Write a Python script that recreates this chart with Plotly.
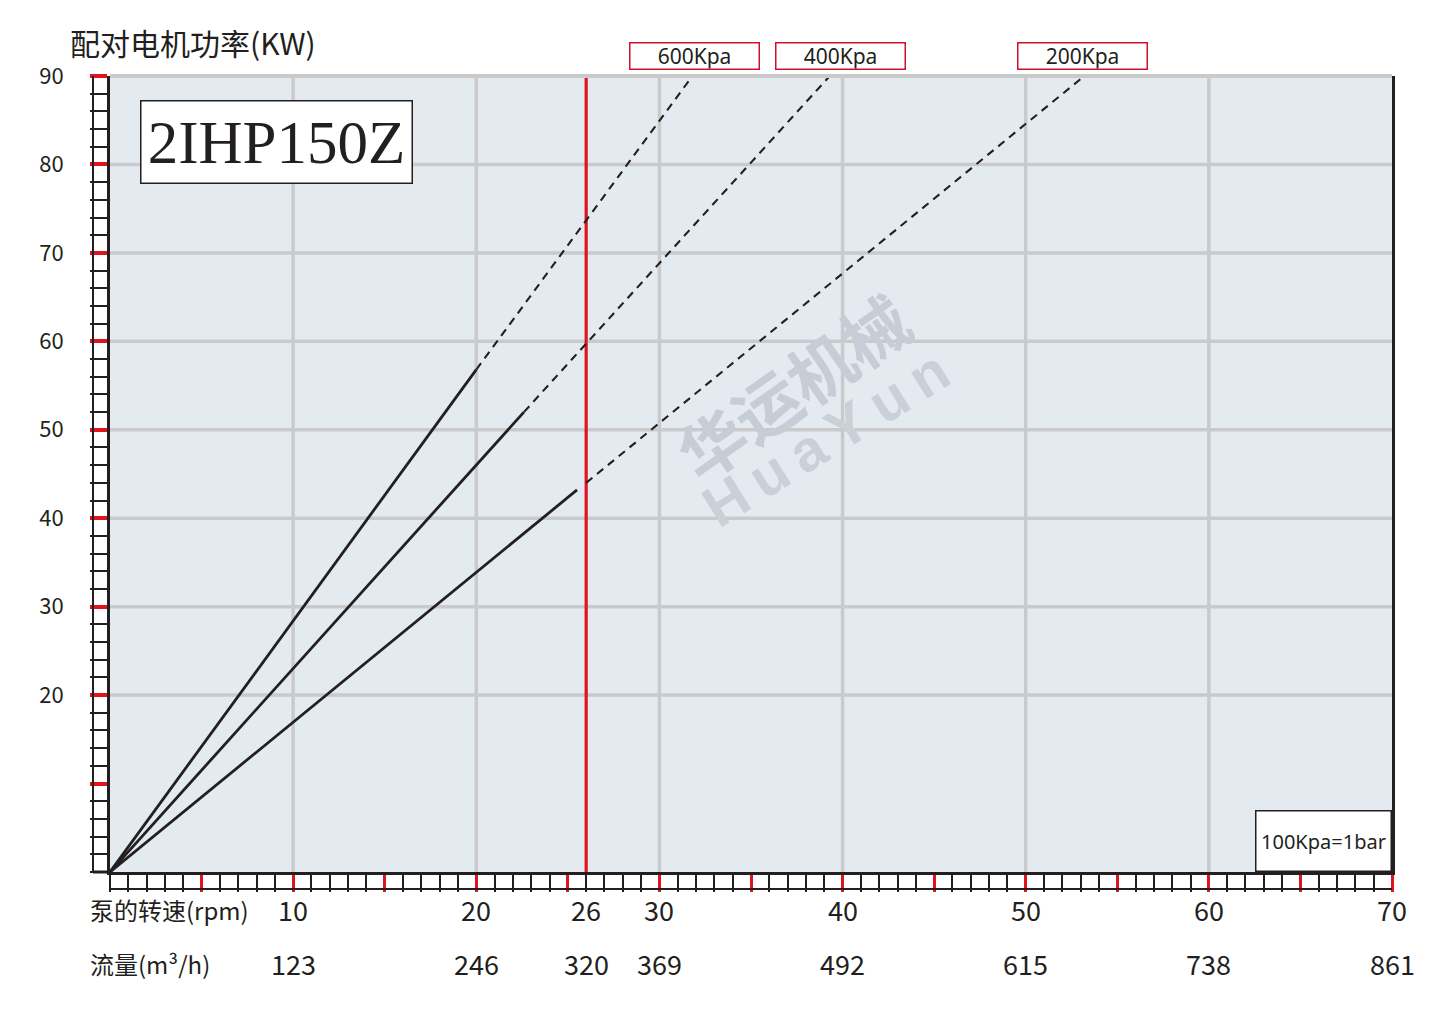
import plotly.graph_objects as go

# ---------------- data ----------------
pressures = ["600Kpa", "400Kpa", "200Kpa"]
# solid segment: from origin to (solid_end_x, solid_end_y)
solid_end_x = [20.0, 22.6, 25.5]
solid_end_y = [56.8, 52.0, 43.2]
# dashed continuation: from (dash_start_x, dash_start_y) to (dash_end_x, 90)
dash_start_x = [20.0, 22.6, 26.0]
dash_start_y = [56.8, 52.0, 44.0]
dash_end_x = [31.8, 39.3, 53.2]
dash_end_y = [90, 90, 90]
label_x = [31.9, 39.9, 53.1]

speed_ticks = [10, 20, 26, 30, 40, 50, 60, 70]
flow_labels = ["123", "246", "320", "369", "492", "615", "738", "861"]
y_ticks = [10, 20, 30, 40, 50, 60, 70, 80, 90]
y_tick_text = ["", "20", "30", "40", "50", "60", "70", "80", "90"]
x_grid = [10, 20, 30, 40, 50, 60]
y_grid = [20, 30, 40, 50, 60, 70, 80]
x_major = [5, 10, 15, 20, 25, 30, 35, 40, 45, 50, 55, 60, 65, 70]
rated_speed = 26

model = "2IHP150Z"
y_title = "配对电机功率(KW)"
row1_title = "泵的转速(rpm)"
row2_title = "流量(m³/h)"
note = "100Kpa=1bar"

# ---------------- style ----------------
OFF = 8  # page body margin
W, H = 1444 - 2 * OFF, 1009 - 2 * OFF
ML, MT = 110 - OFF, 76 - OFF
MR = W - (1392 - OFF)
MB = H - (872 - OFF)
PW, PH = W - ML - MR, H - MT - MB
DARK = "#231f20"
RED = "#e0141e"
GRID = "#c9cacc"
BG = "#e4ebf0"
CJK = "Noto Sans CJK SC, Noto Sans, sans-serif"
STRIP = 17


def px_y(py):  # reference pixel y -> paper y
    return (H - MB - (py - OFF)) / PH


def px_x(px):
    return (px - OFF - ML) / PW


fig = go.Figure()

# red rated-speed line
fig.add_trace(go.Scatter(x=[rated_speed, rated_speed], y=[0, 90], mode="lines",
                         line=dict(color=RED, width=3.2), showlegend=False,
                         hoverinfo="skip", cliponaxis=False))

for i, p in enumerate(pressures):
    fig.add_trace(go.Scatter(x=[0, solid_end_x[i]], y=[0, solid_end_y[i]], mode="lines",
                             line=dict(color=DARK, width=2.8), name=p, showlegend=False))
    fig.add_trace(go.Scatter(x=[dash_start_x[i], dash_end_x[i]], y=[dash_start_y[i], dash_end_y[i]],
                             mode="lines", line=dict(color=DARK, width=2.1, dash="8px,6px"),
                             name=p, showlegend=False))

shapes = []
for gx in x_grid:
    shapes.append(dict(type="line", xref="x", yref="y", x0=gx, x1=gx, y0=0, y1=90,
                       line=dict(color=GRID, width=3.5), layer="below"))
for gy in y_grid:
    shapes.append(dict(type="line", xref="x", yref="y", x0=0, x1=70, y0=gy, y1=gy,
                       line=dict(color=GRID, width=3.5), layer="below"))
# top border (gray)
shapes.append(dict(type="line", xref="x", yref="paper", x0=0, x1=70, y0=1, y1=1,
                   line=dict(color=GRID, width=4), layer="above"))
# ruler strips outer lines
shapes.append(dict(type="line", xref="x", yref="paper", x0=0, x1=70,
                   y0=-STRIP / PH, y1=-STRIP / PH, line=dict(color=DARK, width=2)))
shapes.append(dict(type="line", xref="paper", yref="y", x0=-STRIP / PW, x1=-STRIP / PW,
                   y0=0, y1=90, line=dict(color=DARK, width=2)))
shapes.append(dict(type="line", xref="paper", yref="paper", x0=-STRIP / PW, x1=0,
                   y0=0, y1=0, line=dict(color=DARK, width=3)))

annotations = []
# watermark
annotations.append(dict(text="<b>华运机械</b>", xref="paper", yref="paper", x=px_x(792), y=px_y(385),
                        showarrow=False, textangle=-35,
                        font=dict(family=CJK, size=66, color="#c6cdd6")))
annotations.append(dict(text="<b>H\u2009u\u2009a\u2009Y\u2009u\u2009n</b>", xref="paper", yref="paper",
                        x=px_x(825), y=px_y(438), showarrow=False, textangle=-32,
                        font=dict(family="Liberation Sans, Arial, sans-serif", size=58, color="#c9d0d8")))
# y title
annotations.append(dict(text=y_title, xref="paper", yref="paper", x=px_x(68), y=px_y(42),
                        xanchor="left", yanchor="middle", showarrow=False,
                        font=dict(family=CJK, size=30, color=DARK)))
# model box
annotations.append(dict(text=model, xref="paper", yref="paper", x=px_x(276), y=px_y(141.5),
                        xanchor="center", yanchor="middle", showarrow=False,
                        font=dict(family="Liberation Serif, DejaVu Serif, serif", size=61, color=DARK),
                        bgcolor="white", bordercolor=DARK, borderwidth=1.5,
                        width=270, height=81, borderpad=0))
# pressure labels
for i, p in enumerate(pressures):
    annotations.append(dict(text=p, xref="x", yref="paper", x=label_x[i], y=px_y(56),
                            xanchor="center", yanchor="middle", showarrow=False,
                            font=dict(family="Noto Sans, sans-serif", size=21, color=DARK),
                            bgcolor="white", bordercolor="#d0102a", borderwidth=1.5,
                            width=128, height=25, borderpad=0))
# note box
annotations.append(dict(text=note, xref="paper", yref="paper", x=1.0, y=0,
                        xanchor="right", yanchor="bottom", showarrow=False,
                        font=dict(family="Noto Sans, sans-serif", size=20, color=DARK),
                        bgcolor="white", bordercolor=DARK, borderwidth=1.5,
                        width=134, height=59, borderpad=0))
# x rows
annotations.append(dict(text=row1_title, xref="paper", yref="paper", x=px_x(88), y=px_y(909),
                        xanchor="left", yanchor="middle", showarrow=False,
                        font=dict(family=CJK, size=24, color=DARK)))
annotations.append(dict(text=row2_title, xref="paper", yref="paper", x=px_x(88), y=px_y(963),
                        xanchor="left", yanchor="middle", showarrow=False,
                        font=dict(family=CJK, size=24, color=DARK)))
for sx, fl in zip(speed_ticks, flow_labels):
    annotations.append(dict(text=str(sx), xref="x", yref="paper", x=sx, y=px_y(909),
                            xanchor="center", yanchor="middle", showarrow=False,
                            font=dict(family=CJK, size=27, color=DARK)))
    annotations.append(dict(text=fl, xref="x", yref="paper", x=sx, y=px_y(963),
                            xanchor="center", yanchor="middle", showarrow=False,
                            font=dict(family=CJK, size=27, color=DARK)))

fig.update_layout(
    width=W, height=H,
    margin=dict(l=ML, r=MR, t=MT, b=MB),
    paper_bgcolor="white", plot_bgcolor=BG,
    shapes=shapes, annotations=annotations,
    showlegend=False,
    xaxis=dict(range=[0, 70], showgrid=False, zeroline=False, showline=True,
               linecolor=DARK, linewidth=3, mirror=False,
               tickmode="array", tickvals=x_major, ticks="outside", ticklen=STRIP,
               tickwidth=3, tickcolor=RED, showticklabels=False,
               minor=dict(ticks="outside", ticklen=STRIP, tickwidth=1.6, tickcolor=DARK,
                          tickmode="linear", tick0=0, dtick=1, showgrid=False)),
    yaxis=dict(range=[0, 90], showgrid=False, zeroline=False, showline=True,
               linecolor=DARK, linewidth=3, mirror=True,
               tickmode="array", tickvals=y_ticks, ticktext=y_tick_text,
               ticks="outside", ticklen=STRIP, tickwidth=3.5, tickcolor=RED,
               ticklabelstandoff=22,
               tickfont=dict(family=CJK, size=22, color=DARK),
               minor=dict(ticks="outside", ticklen=STRIP, tickwidth=1.6, tickcolor=DARK,
                          tickmode="linear", tick0=0, dtick=2, showgrid=False)),
)

fig.write_html("out.html")
